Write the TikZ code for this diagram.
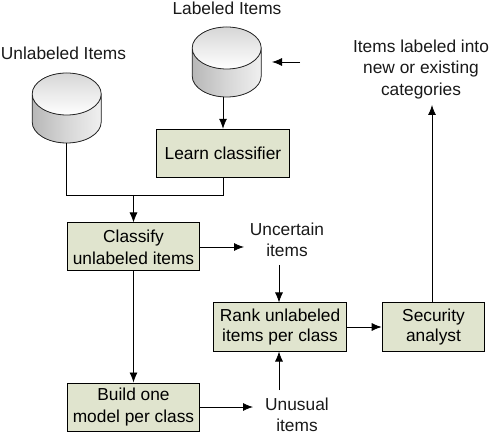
\documentclass[tikz,border=0pt]{standalone}
\usepackage{fontspec}
\setmainfont{Liberation Sans}
\usetikzlibrary{arrows.meta}
\definecolor{boxfill}{HTML}{E0E4CE}
\tikzset{
  px/.style={x=0.75pt,y=-0.75pt},
  procbox/.style={draw=black,line width=0.75pt,fill=boxfill,align=center,inner sep=0pt,font=\fontsize{13pt}{16.5pt}\selectfont},
  tightbox/.style={procbox,font=\fontsize{13pt}{15pt}\selectfont},
  lbl/.style={align=center,inner sep=0pt,text=black!90,font=\fontsize{13pt}{16pt}\selectfont},
  conn/.style={draw=black,line width=0.6pt},
  arr/.style={conn,-{Latex[length=7.5pt,width=6pt]}},
}
\newcommand{\drum}[3]{% name, cx, top y
  \fill[left color=black!28,right color=black!6,middle color=black!16]
    (#2-34.5,#3+21) -- (#2-34.5,#3+49) arc[x radius=25.875pt,y radius=15.75pt,start angle=180,end angle=360] -- (#2+34.5,#3+21) -- cycle;
  \fill[top color=black!16,bottom color=white]
    (#2,#3+21) ellipse[x radius=25.875pt,y radius=15.75pt];
  \draw[line width=0.6pt,black!85]
    (#2-34.5,#3+21) -- (#2-34.5,#3+49) arc[x radius=25.875pt,y radius=15.75pt,start angle=180,end angle=360] -- (#2+34.5,#3+21)
    (#2,#3+21) ellipse[x radius=25.875pt,y radius=15.75pt];
  \coordinate (#1) at (#2,#3+70);
}
\begin{document}
\begin{tikzpicture}[px]
\useasboundingbox (0,0) rectangle (492,434);
\drum{labeled}{226.7}{27}
\drum{unlabeled}{66.7}{73}
\node[lbl] (tl) at (227,8) {Labeled Items};
\node[lbl] (tu) at (63.5,53) {Unlabeled Items};
\node[lbl] (tn) at (421,69.5) {Items labeled into\\new or existing\\categories};
\node[procbox,minimum width=99.5pt,minimum height=36pt] (learn) at (223,153.3) {Learn classifier};
\node[procbox,minimum width=99.5pt,minimum height=36pt] (classify) at (133.5,247) {Classify\\unlabeled items};
\node[tightbox,minimum width=100pt,minimum height=36pt] (rank) at (280,327) {Rank unlabeled\\items per class};
\node[tightbox,minimum width=77pt,minimum height=36pt] (sec) at (433.5,327) {Security\\analyst};
\node[procbox,minimum width=99.5pt,minimum height=36pt] (build) at (133.5,407) {Build one\\model per class};
\node[lbl] (unc) at (287,240) {Uncertain\\items};
\node[lbl] (unu) at (297,414.5) {Unusual\\items};
\coordinate (j) at (133.5,195);
\coordinate (labin) at (272,62);
\coordinate (labout) at (300,62);
\coordinate (uncdown) at (279,265);
\coordinate (unuup) at (279,390);
\coordinate (unuarr) at (253,407);
\coordinate (uncarr) at (244,247);
\coordinate (itemsb) at (432,105);
\draw[arr] (labeled -| learn.north) -- (learn.north);
\draw[conn] (unlabeled) |- (j);
\draw[conn] (learn.south) |- (j);
\draw[arr] (j) -- (classify.north);
\draw[arr] (classify.south) -- (build.north);
\draw[arr] (classify.east) -- (uncarr);
\draw[arr] (build.east) -- (unuarr);
\draw[arr] (uncdown) -- (rank.north -| uncdown);
\draw[arr] (unuup) -- (rank.south -| unuup);
\draw[arr] (rank.east) -- (sec.west);
\draw[arr] (sec.north -| itemsb) -- (itemsb);
\draw[arr] (labout) -- (labin);
\end{tikzpicture}
\end{document}
